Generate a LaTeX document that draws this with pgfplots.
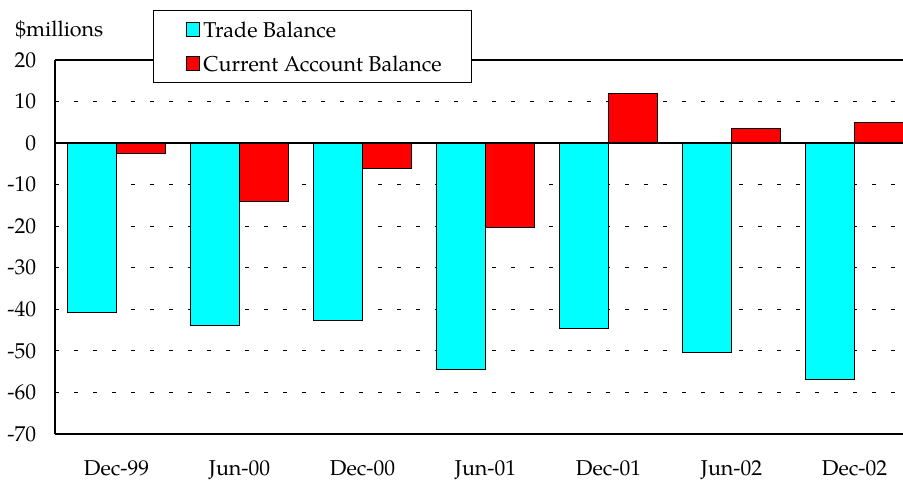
\documentclass[border=0pt]{standalone}
\usepackage{fontspec}
\setmainfont{TeX Gyre Pagella}
\usepackage{pgfplots}
\pgfplotsset{compat=1.18}
\definecolor{tbcol}{RGB}{0,255,255}
\definecolor{cacol}{RGB}{255,0,0}
\begin{document}
\fontsize{10.75}{13}\selectfont
\begin{tikzpicture}
\begin{axis}[
  at={(0,0)}, anchor=south west,
  scale only axis, width=430.5pt, height=187pt,
  xmin=-0.5, xmax=6.5, ymin=-70, ymax=20,
  ybar=0pt, bar width=24.5pt,
  axis lines*=left,
  axis line style={line width=1.2pt},
  ytick={-70,-60,...,20},
  xtick={0,...,6},
  xticklabels={Dec-99,Jun-00,Dec-00,Jun-01,Dec-01,Jun-02,Dec-02},
  major tick length=0pt,
  ymajorgrids,
  major grid style={black, line width=0.5pt, dash pattern=on 2pt off 7.5pt},
  /pgf/number format/assume math mode=true,
  tick label style={font=\fontsize{10.75}{13}\selectfont},
  yticklabel style={xshift=-5.7pt},
  xticklabel style={yshift=-9.7pt},
  clip=false,
  legend style={draw=none, fill=none, at={(axis description cs:0.15215,1.10294)}, anchor=north west,
    inner sep=0pt, row sep=7pt, font=\fontsize{10.75}{13}\selectfont,
    nodes={inner xsep=1.5pt, inner ysep=0pt, text height=7.5pt, text depth=2.5pt}},
  legend cell align=left,
]
\addplot[fill=tbcol, draw=black, line width=0.5pt,
  legend image code/.code={\draw[fill=tbcol, draw=black, line width=0.5pt] (0pt,-2pt) rectangle (6.5pt,5pt);}]
  coordinates {(0,-40.7) (1,-44.0) (2,-42.6) (3,-54.4) (4,-44.6) (5,-50.5) (6,-57.0)};
\addplot[fill=cacol, draw=black, line width=0.5pt,
  legend image code/.code={\draw[fill=cacol, draw=black, line width=0.5pt] (0pt,-2pt) rectangle (6.5pt,5pt);}]
  coordinates {(0,-2.6) (1,-14.0) (2,-6.0) (3,-20.4) (4,12.0) (5,3.5) (6,5.0)};
\draw[line width=1pt] (axis cs:-0.5,0) -- (axis cs:6.5,0);
\draw[line width=1.2pt] (rel axis cs:0,1) -- (rel axis cs:1,1);
\draw[line width=0.5pt, fill=white] (axis description cs:0.11498,1.13369) rectangle (axis description cs:0.48432,0.94118);
\legend{Trade Balance, Current Account Balance}
\end{axis}
\node[anchor=base west, inner sep=0pt] at (-20pt,199pt) {\$millions};
\pgfresetboundingbox
\useasboundingbox (-27.5pt,-22.5pt) rectangle (424pt,217pt);
\end{tikzpicture}
\end{document}
